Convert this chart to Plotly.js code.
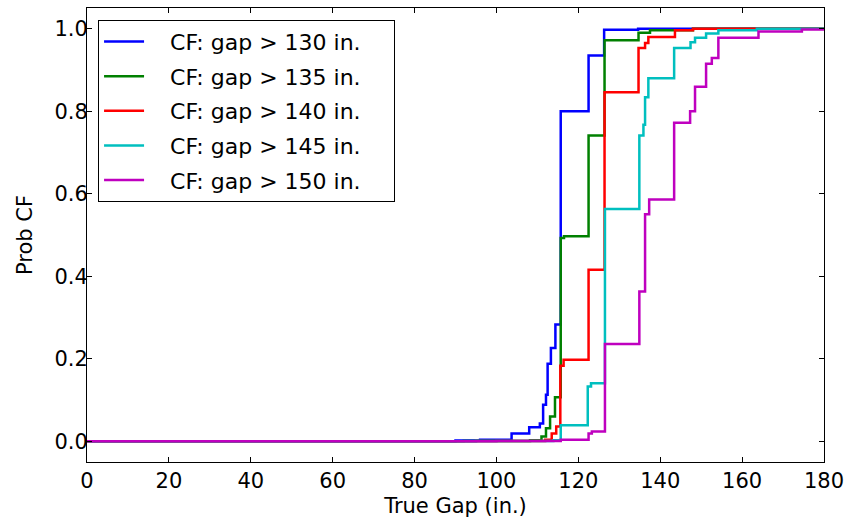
<!DOCTYPE html>
<html>
<head>
<meta charset="utf-8">
<script src="https://cdn.plot.ly/plotly-3.0.1.min.js"></script>
<style>
html, body { margin: 0; padding: 0; background: #fff; }
#chart { width: 847px; height: 525px; }
</style>
</head>
<body>
<div id="chart"></div>
<script>
// Series names
const seriesNames = ["CF: gap > 130 in.", "CF: gap > 135 in.", "CF: gap > 140 in.", "CF: gap > 145 in.", "CF: gap > 150 in."];
const seriesColors = ["#0000ff", "#008000", "#ff0000", "#00bfbf", "#bf00bf"];

// Step data: true gap (in.) and probability of CF
const gap130 = [0, 90, 96, 103.7, 108, 110.6, 111.4, 112.1, 112.5, 113.3, 114.4, 115.7, 122.5, 126.3, 134.6, 180];
const prob130 = [0, 0.002, 0.004, 0.019, 0.034, 0.043, 0.089, 0.113, 0.188, 0.226, 0.283, 0.80, 0.935, 0.997, 1.0, 1.0];

const gap135 = [0, 92, 108.2, 111, 112.1, 113.1, 114.3, 115.7, 116.5, 122.5, 126.4, 134.7, 137.5, 148, 180];
const prob135 = [0, 0.001, 0.003, 0.012, 0.032, 0.06, 0.107, 0.493, 0.497, 0.741, 0.972, 0.99, 0.996, 1.0, 1.0];

const gap140 = [0, 95, 111.9, 113.5, 114.6, 115.6, 116.4, 122.5, 126.4, 134.7, 136.3, 137.1, 143.6, 148, 180];
const prob140 = [0, 0.001, 0.004, 0.019, 0.036, 0.183, 0.198, 0.416, 0.846, 0.953, 0.965, 0.98, 0.996, 1.0, 1.0];

const gap145 = [0, 95, 113.9, 115.7, 122.3, 123.1, 126.5, 134.9, 135.9, 136.3, 137.1, 143.4, 147.4, 148.5, 151.2, 154.2, 163.6, 180];
const prob145 = [0, 0.001, 0.003, 0.039, 0.133, 0.141, 0.563, 0.741, 0.767, 0.834, 0.88, 0.953, 0.967, 0.978, 0.988, 0.996, 1.0, 1.0];

const gap150 = [0, 100, 115.7, 122.5, 123.3, 126.5, 134.9, 136.3, 137.3, 143.4, 147.3, 148.5, 151.2, 152.6, 154.2, 164, 174.6, 180];
const prob150 = [0, 0.001, 0.004, 0.019, 0.024, 0.236, 0.363, 0.55, 0.586, 0.772, 0.80, 0.859, 0.915, 0.929, 0.978, 0.993, 0.998, 0.998];

const xTicks = [0, 20, 40, 60, 80, 100, 120, 140, 160, 180];
const yTicks = [0.0, 0.2, 0.4, 0.6, 0.8, 1.0];
const yTickLabels = ["0.0", "0.2", "0.4", "0.6", "0.8", "1.0"];

const xs = [gap130, gap135, gap140, gap145, gap150];
const ys = [prob130, prob135, prob140, prob145, prob150];

const NB = "\u00a0\u00a0\u00a0";
const traces = seriesNames.map((n, i) => ({
  type: "scatter",
  mode: "lines",
  x: xs[i],
  y: ys[i],
  name: NB + n + "\u00a0\u00a0\u00a0\u00a0",
  legendgroup: "g" + i,
  line: { color: seriesColors[i], width: 2.5, shape: "hv" }
}));

const font = "DejaVu Sans, sans-serif";
const axisCommon = {
  showline: true, mirror: "allticks", linecolor: "#000", linewidth: 1,
  ticks: "inside", ticklen: 5, tickcolor: "#000", tickwidth: 1,
  showgrid: false, zeroline: false,
  tickfont: { family: font, size: 21, color: "#000" }
};

const layout = {
  width: 847, height: 525,
  margin: { l: 87, r: 23, t: 8, b: 63 },
  paper_bgcolor: "#fff", plot_bgcolor: "#fff",
  showlegend: true,
  legend: {
    x: 0.015, y: 0.974, xanchor: "left", yanchor: "top",
    bgcolor: "#fff", bordercolor: "#000", borderwidth: 1,
    font: { family: font, size: 22, color: "#000" },
    tracegroupgap: 3, traceorder: "grouped", itemwidth: 40
  },
  xaxis: Object.assign({}, axisCommon, {
    range: [0, 180], tickvals: xTicks, ticktext: xTicks.map(String),
    title: { text: "True Gap (in.)", font: { family: font, size: 21, color: "#000" }, standoff: 6 }
  }),
  yaxis: Object.assign({}, axisCommon, {
    range: [-0.05, 1.05], tickvals: yTicks, ticktext: yTickLabels,
    ticklabelstandoff: -6,
    title: { text: "Prob CF", font: { family: font, size: 21, color: "#000" }, standoff: 16 }
  })
};

Plotly.newPlot("chart", traces, layout, { staticPlot: true, displayModeBar: false });
</script>
</body>
</html>
